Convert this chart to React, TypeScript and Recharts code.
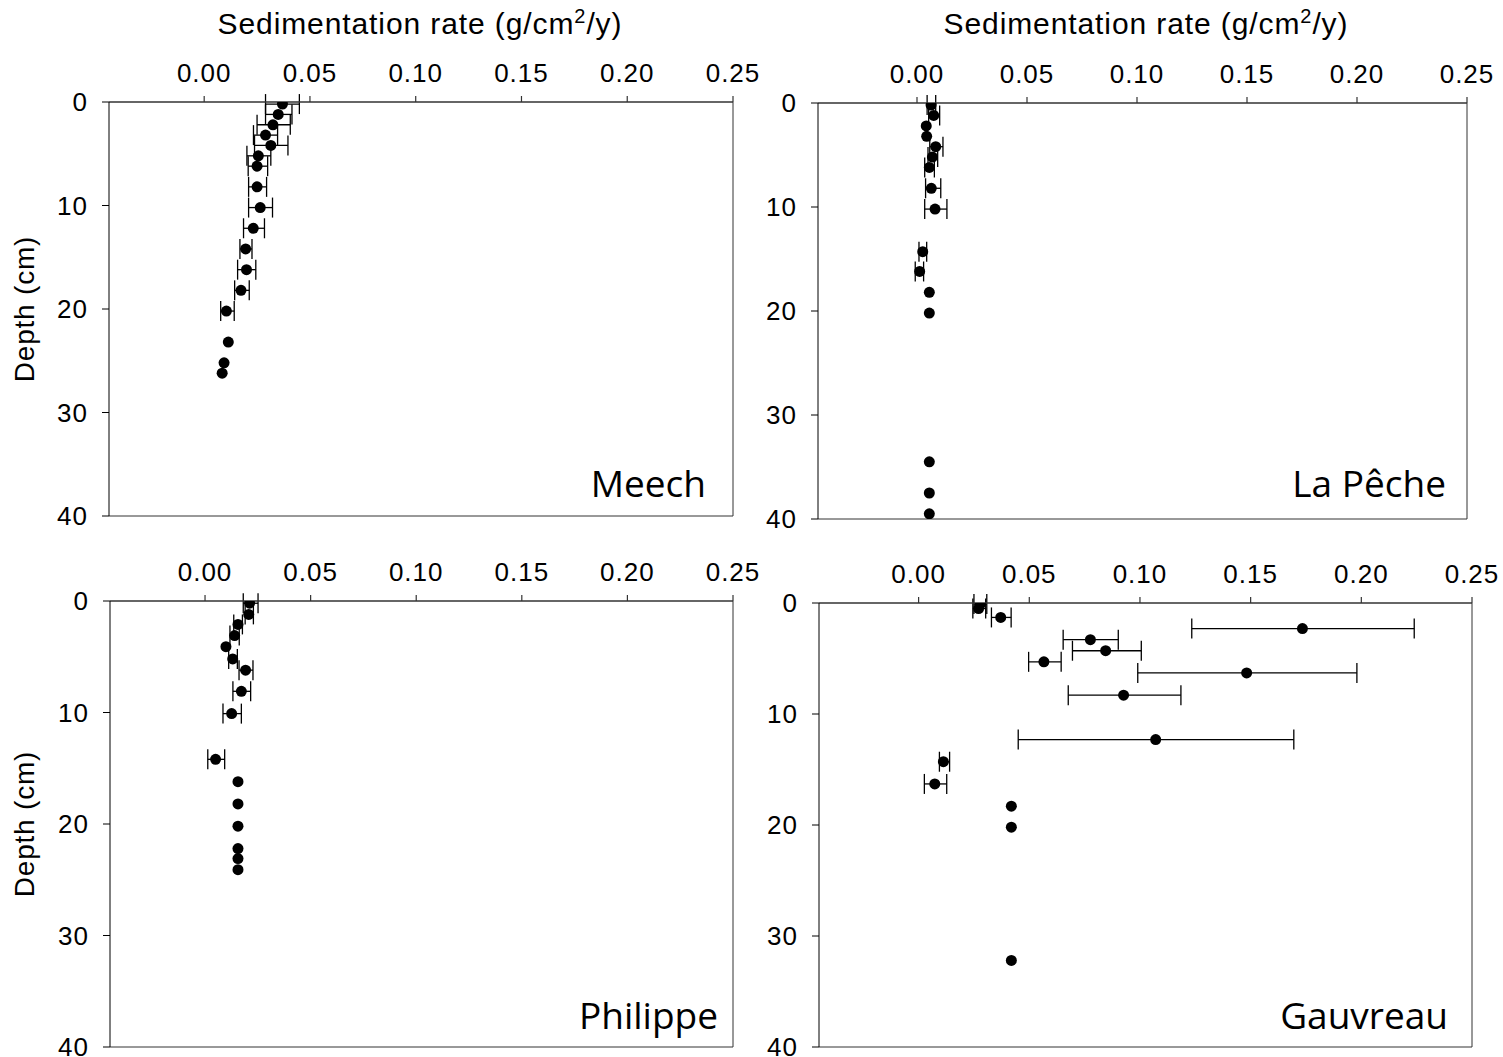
import React from 'react';
import { ScatterChart, Scatter, XAxis, YAxis, ErrorBar, ReferenceLine } from 'recharts';

// ---------- data ----------
const xTicks = [0, 0.05, 0.1, 0.15, 0.2, 0.25];
const yTicks = [0, 10, 20, 30, 40];

const meechDepth = [0.2, 1.2, 2.2, 3.2, 4.2, 5.2, 6.2, 8.2, 10.2, 12.2, 14.2, 16.2, 18.2, 20.2, 23.2, 25.2, 26.2];
const meechRate = [0.037, 0.035, 0.0325, 0.029, 0.0315, 0.0256, 0.025, 0.025, 0.0265, 0.0232, 0.0196, 0.02, 0.0174, 0.0105, 0.0114, 0.0094, 0.0085];
const meechLow = [0.029, 0.029, 0.025, 0.0233, 0.0238, 0.0202, 0.0208, 0.021, 0.021, 0.0186, 0.0169, 0.0158, 0.0144, 0.0078, null, null, null];
const meechHigh = [0.045, 0.0415, 0.0407, 0.0347, 0.0396, 0.0315, 0.03, 0.0295, 0.0323, 0.0285, 0.0226, 0.0244, 0.0213, 0.0142, null, null, null];

const pecheDepth = [0.2, 1.2, 2.2, 3.2, 4.2, 5.2, 6.2, 8.2, 10.2, 14.3, 16.2, 18.2, 20.2, 34.5, 37.5, 39.5];
const pecheRate = [0.0064, 0.0076, 0.0042, 0.0044, 0.0085, 0.007, 0.0056, 0.0065, 0.0082, 0.0026, 0.0012, 0.0056, 0.0056, 0.0056, 0.0056, 0.0056];
const pecheLow = [0.0046, 0.0053, null, null, 0.0058, 0.005, 0.0035, 0.0039, 0.0035, 0.0009, -0.0008, null, null, null, null, null];
const pecheHigh = [0.0085, 0.0103, null, null, 0.0118, 0.0094, 0.0079, 0.0108, 0.0136, 0.0044, 0.003, null, null, null, null, null];

const philDepth = [0.2, 1.2, 2.1, 3.1, 4.1, 5.2, 6.2, 8.1, 10.1, 14.2, 16.2, 18.2, 20.2, 22.2, 23.1, 24.1];
const philRate = [0.0211, 0.0207, 0.0156, 0.014, 0.0099, 0.0131, 0.0192, 0.0172, 0.0126, 0.005, 0.0156, 0.0156, 0.0156, 0.0156, 0.0156, 0.0156];
const philLow = [0.0181, 0.019, 0.0136, 0.0118, null, 0.0112, 0.0161, 0.0132, 0.0085, 0.0013, null, null, null, null, null, null];
const philHigh = [0.0251, 0.0229, 0.0177, 0.0162, null, 0.0153, 0.0227, 0.0216, 0.0172, 0.0093, null, null, null, null, null, null];

const gauvDepth = [0.1, 0.5, 1.3, 2.3, 3.3, 4.3, 5.3, 6.3, 8.3, 12.3, 14.3, 16.3, 18.3, 20.2, 32.2];
const gauvRate = [0.0279, 0.0271, 0.0371, 0.1734, 0.0776, 0.0845, 0.0566, 0.1482, 0.0926, 0.1071, 0.0112, 0.0073, 0.0419, 0.0419, 0.0419];
const gauvLow = [0.025, 0.0245, 0.0329, 0.1234, 0.0653, 0.0695, 0.0497, 0.099, 0.0676, 0.045, 0.0094, 0.0026, null, null, null];
const gauvHigh = [0.0308, 0.0303, 0.0418, 0.2239, 0.0902, 0.1006, 0.0644, 0.198, 0.1185, 0.1695, 0.014, 0.0127, null, null, null];

const siteNames = ['Meech', 'La Pêche', 'Philippe', 'Gauvreau'];

// ---------- helpers ----------
type Row = { x: number; y: number; err: [number, number] };

function buildRows(depth: number[], rate: number[], low: (number | null)[], high: (number | null)[], withErr: boolean): Row[] {
  const out: Row[] = [];
  depth.forEach((d, i) => {
    const r = rate[i];
    const lo = low[i];
    const hi = high[i];
    const has = lo != null && hi != null;
    if (has !== withErr) return;
    out.push({ x: r, y: d, err: has ? [r - (lo as number), (hi as number) - r] : [0, 0] });
  });
  return out;
}

const AXIS_FONT = "'Liberation Sans', Arial, Helvetica, sans-serif";
const LABEL_FONT = "'Open Sans', 'Noto Sans', sans-serif";

type Box = { left: number; top: number; right: number; bottom: number };

const boxes: Box[] = [
  { left: 109, top: 102, right: 733, bottom: 516 },
  { left: 818, top: 103, right: 1467, bottom: 519 },
  { left: 110, top: 601, right: 733, bottom: 1047 },
  { left: 819, top: 603, right: 1472, bottom: 1047 },
];

const M_LEFT = 40;
const Y_W = 70;
const M_TOP = 30;
const X_H = 40;
const M_RIGHT = 30;
const M_BOTTOM = 30;

const Dot = (props: any) => {
  const { cx, cy } = props;
  if (cx == null || cy == null) return <g />;
  return <circle cx={cx} cy={cy} r={5.5} fill="#000" />;
};

const tickStyle = { fontSize: 26, fill: '#000', fontFamily: AXIS_FONT, letterSpacing: 1 };

function Panel({ box, withErr, noErr }: { box: Box; withErr: Row[]; noErr: Row[] }) {
  const W = box.right - box.left + M_LEFT + Y_W + M_RIGHT;
  const H = box.bottom - box.top + M_TOP + X_H + M_BOTTOM;
  return (
    <div style={{ position: 'absolute', left: box.left - M_LEFT - Y_W, top: box.top - M_TOP - X_H, width: W, height: H }}>
      <ScatterChart width={W} height={H} margin={{ top: M_TOP, left: M_LEFT, right: M_RIGHT, bottom: M_BOTTOM }}>
        <XAxis
          type="number"
          dataKey="x"
          orientation="top"
          domain={[-0.045, 0.25]}
          allowDataOverflow
          ticks={xTicks}
          tickFormatter={(v: number) => v.toFixed(2)}
          height={X_H}
          tickSize={6}
          tickMargin={14}
          axisLine={{ stroke: '#333', strokeWidth: 1.5 }}
          tickLine={{ stroke: '#333', strokeWidth: 1.2 }}
          tick={tickStyle}
        />
        <YAxis
          type="number"
          dataKey="y"
          domain={[0, 40]}
          reversed
          allowDataOverflow
          ticks={yTicks}
          width={Y_W}
          tickSize={7}
          tickMargin={14}
          axisLine={{ stroke: '#000', strokeWidth: 1 }}
          tickLine={{ stroke: '#000', strokeWidth: 1 }}
          tick={tickStyle}
        />
        <ReferenceLine x={0.25} stroke="#333" strokeWidth={1} />
        <ReferenceLine y={40} stroke="#333" strokeWidth={1} />
        <Scatter data={withErr} isAnimationActive={false} shape={Dot}>
          <ErrorBar dataKey="err" direction="x" width={10} stroke="#000" strokeWidth={1.3} />
        </Scatter>
        <Scatter data={noErr} isAnimationActive={false} shape={Dot} />
      </ScatterChart>
    </div>
  );
}

export default function App() {
  const sets: [number[], number[], (number | null)[], (number | null)[]][] = [
    [meechDepth, meechRate, meechLow, meechHigh],
    [pecheDepth, pecheRate, pecheLow, pecheHigh],
    [philDepth, philRate, philLow, philHigh],
    [gauvDepth, gauvRate, gauvLow, gauvHigh],
  ];
  const nameRight = [706, 1446, 718, 1448];
  const nameBase = [497, 497, 1029, 1029];
  return (
    <div style={{ position: 'absolute', left: 0, top: 0, width: 1503, height: 1057, background: '#fff', overflow: 'hidden' }}>
      {boxes.map((b, i) => (
        <Panel
          key={i}
          box={b}
          withErr={buildRows(sets[i][0], sets[i][1], sets[i][2], sets[i][3], true)}
          noErr={buildRows(sets[i][0], sets[i][1], sets[i][2], sets[i][3], false)}
        />
      ))}
      <svg width={1503} height={1057} style={{ position: 'absolute', left: 0, top: 0, pointerEvents: 'none' }}>
        {[420, 1146].map((cx, i) => (
          <text key={'t' + i} x={cx} y={34} textAnchor="middle" fontSize={30} letterSpacing={0.9} fontFamily={AXIS_FONT} fill="#000">
            Sedimentation rate (g/cm
            <tspan dy={-11} fontSize={20}>2</tspan>
            <tspan dy={11}>/y)</tspan>
          </text>
        ))}
        {[309, 824].map((cy, i) => (
          <text key={'d' + i} x={0} y={0} transform={`translate(34, ${cy}) rotate(-90)`} textAnchor="middle" fontSize={28} letterSpacing={0.8} fontFamily={AXIS_FONT} fill="#000">
            Depth (cm)
          </text>
        ))}
        {siteNames.map((n, i) => (
          <text key={'n' + i} x={nameRight[i]} y={nameBase[i]} textAnchor="end" fontSize={37} fontFamily={LABEL_FONT} fill="#000">
            {n}
          </text>
        ))}
      </svg>
    </div>
  );
}
